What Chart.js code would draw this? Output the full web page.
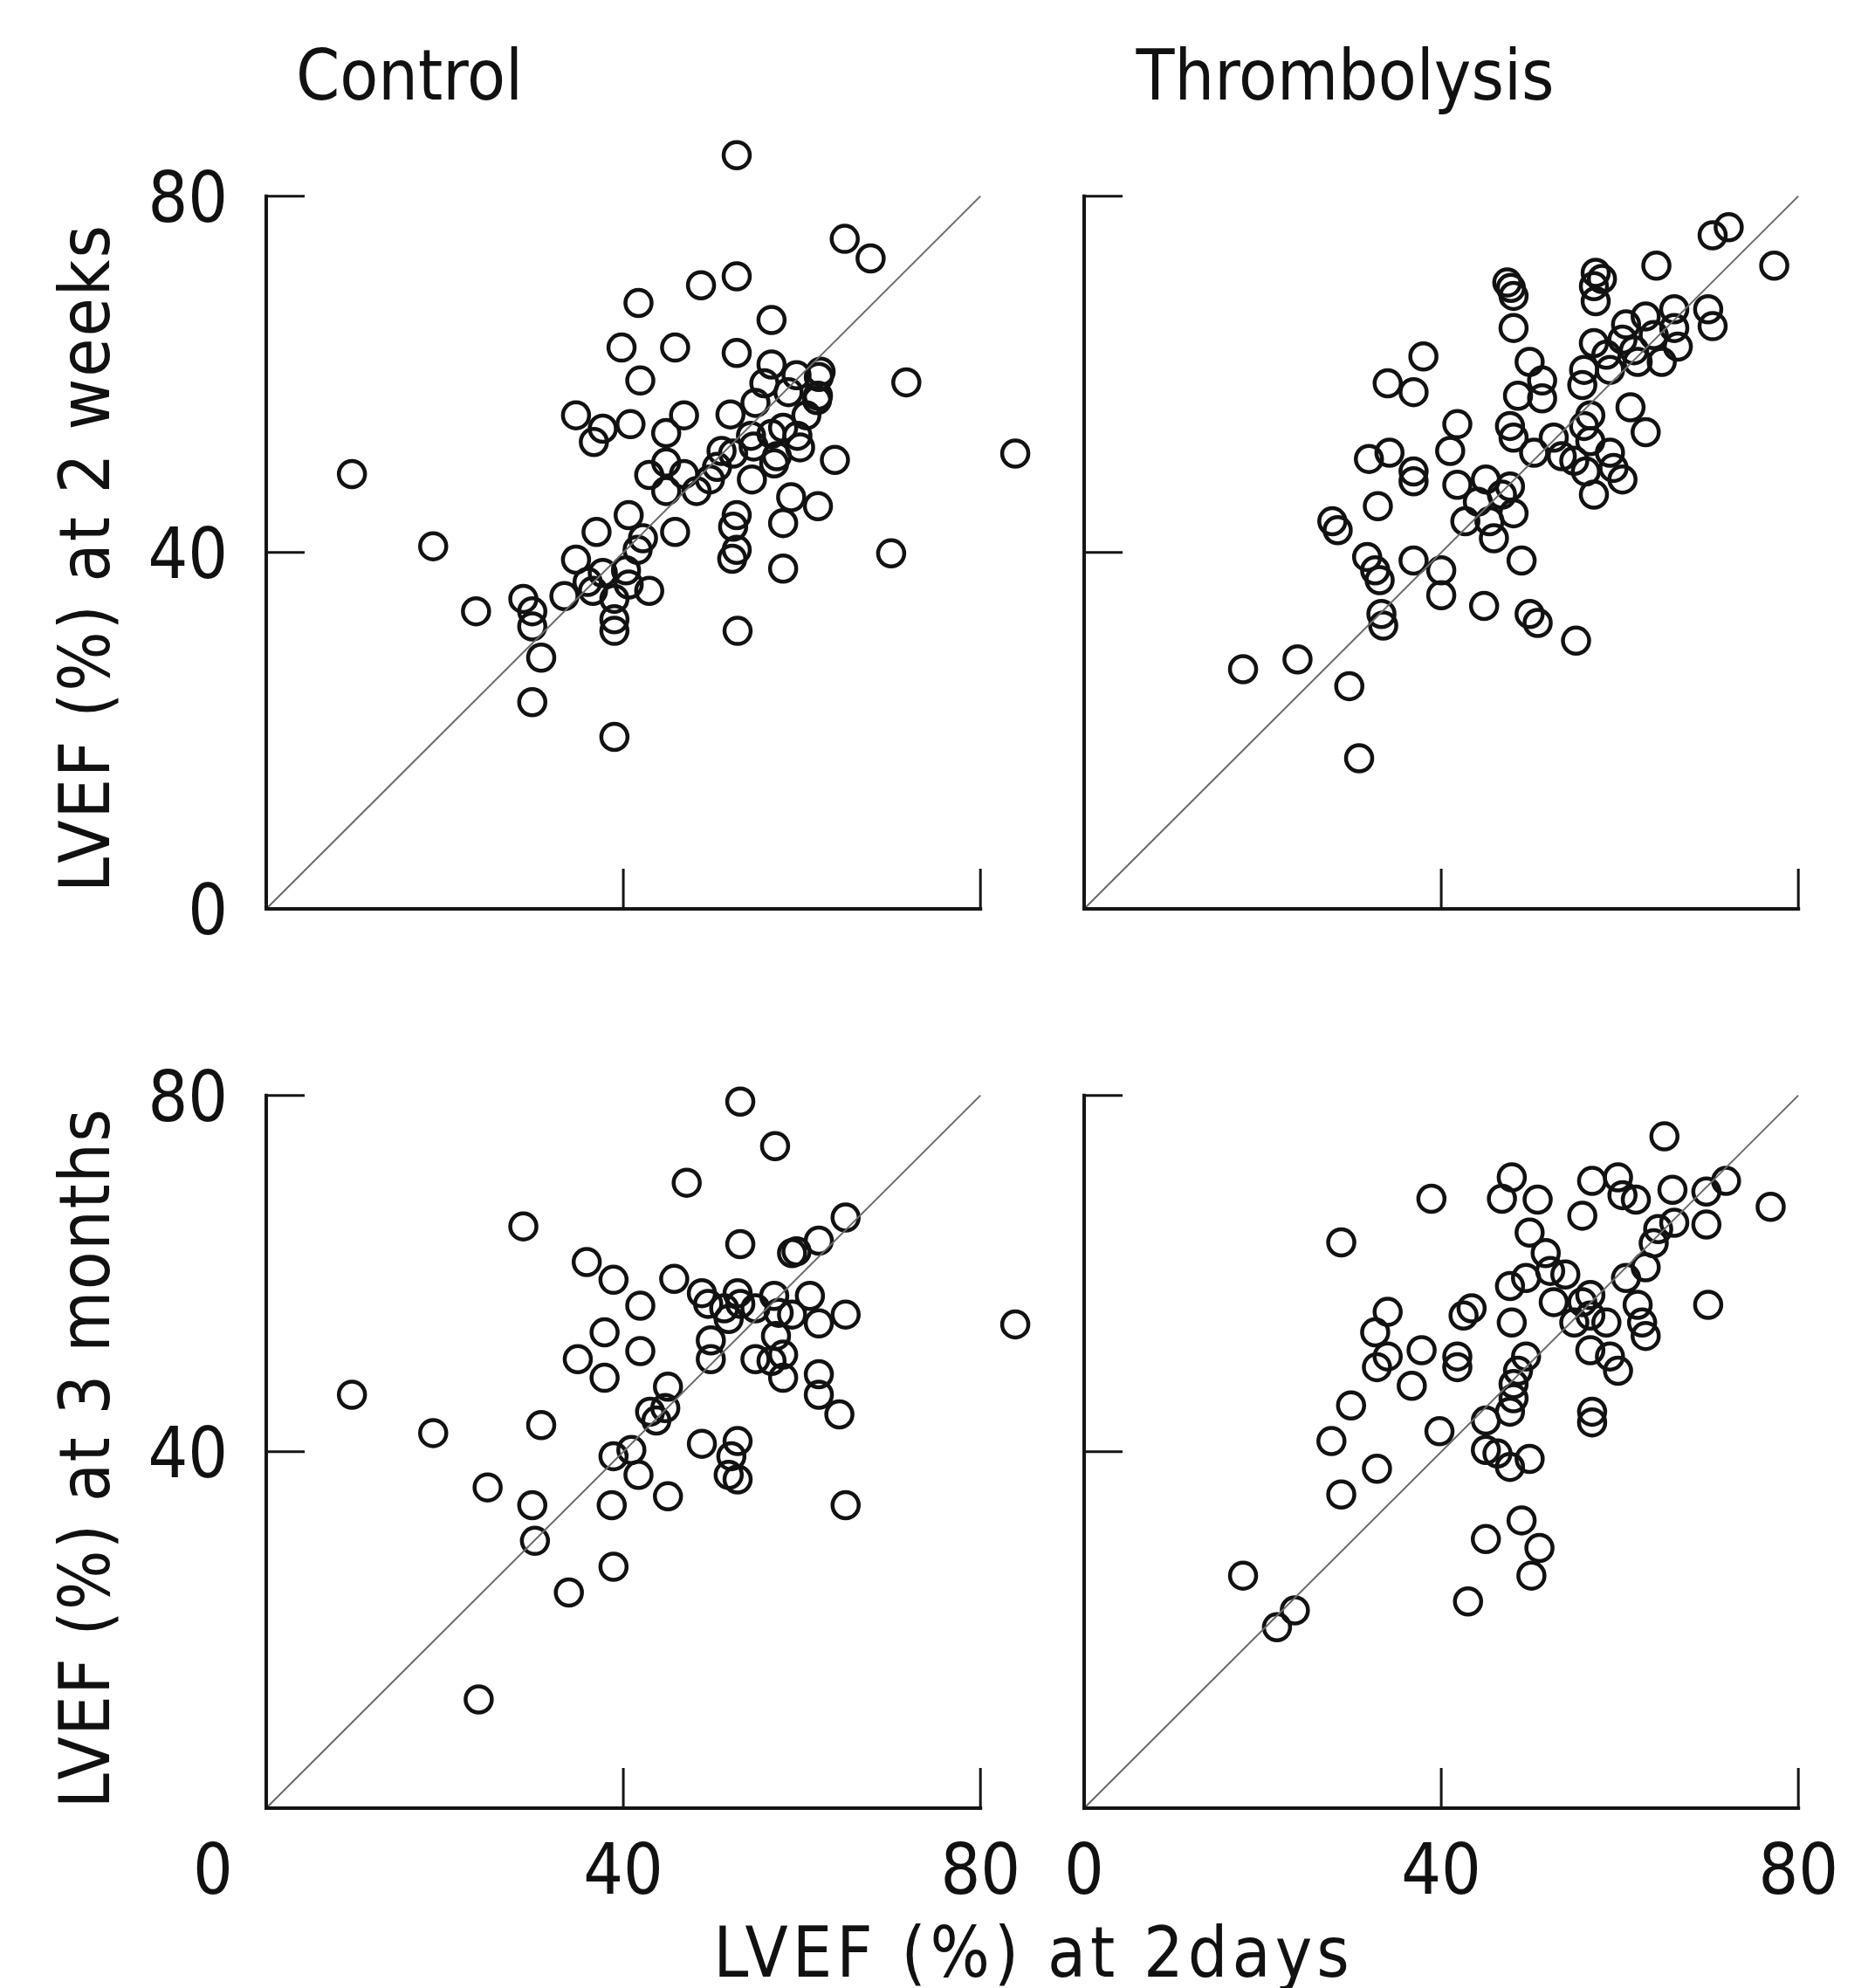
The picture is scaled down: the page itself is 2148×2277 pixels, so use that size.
<!DOCTYPE html>
<html>
<head>
<meta charset="utf-8">
<script src="https://cdn.jsdelivr.net/npm/chart.js@4.4.1/dist/chart.umd.min.js"></script>
<style>
body { margin: 0; background: #fff; width: 2148px; height: 2277px; position: relative; overflow: hidden;
       font-family: 'DejaVu Sans Condensed', 'DejaVu Sans', sans-serif; color: #111; }
canvas { position: absolute; }
.txt { position: absolute; font-size: 80px; line-height: 1; white-space: nowrap; }
.rot { transform: translate(-50%, -50%) rotate(-90deg); }
.ctr { transform: translateX(-50%); }
</style>
</head>
<body>
<div class="txt ctr" style="left:469px; top:47px;">Control</div>
<div class="txt ctr" style="left:1541px; top:47px;">Thrombolysis</div>
<div class="txt rot" style="left:98px; top:639px; letter-spacing:2px;">LVEF (%) at 2 weeks</div>
<div class="txt rot" style="left:98px; top:1670px; letter-spacing:1.5px;">LVEF (%) at 3 months</div>
<div class="txt ctr" style="left:1184px; top:2197px; letter-spacing:5px;">LVEF (%) at 2days</div>

<canvas id="tl"></canvas>
<canvas id="tr"></canvas>
<canvas id="bl"></canvas>
<canvas id="br"></canvas>

<script>
// axis values
const tickValues = [0, 40, 80];
const tickLabels = ['0', '40', '80'];
const axisMax = 80;
const identityLine = [0, 80];

// LVEF at 2 days (x) vs follow-up (y)
const control2w = [
  [9.6,48.8],[18.7,40.7],[23.5,33.4],[28.8,34.8],[29.8,33.4],[29.8,31.7],[30.8,28.2],[29.8,23.2],
  [33.4,35.1],[34.7,39.2],[36.0,36.7],[37.7,37.7],[36.6,35.7],[39.0,34.8],[39.0,32.5],[39.0,31.2],
  [39.0,19.3],[40.3,38.0],[41.6,40.3],[40.6,36.4],[42.9,35.7],[37.0,42.3],[40.6,44.2],[42.2,41.6],
  [45.8,42.3],[34.7,55.4],[40.8,54.4],[37.7,53.9],[36.7,52.4],[39.8,63.0],[41.9,59.3],[41.7,68.0],
  [45.8,63.0],[46.8,55.4],[44.8,53.4],[42.9,48.7],[44.8,50.1],[46.8,48.8],[44.8,46.9],[49.7,48.2],
  [52.3,51.1],[52.0,55.5],[54.3,53.1],[54.4,48.2],[57.2,50.8],[57.9,54.0],[59.5,53.1],[59.8,51.8],
  [61.8,57.6],[62.1,60.3],[63.7,50.4],[58.8,46.2],[61.8,45.2],[57.9,43.3],[57.9,38.2],[52.7,44.2],
  [52.3,42.9],[52.7,40.3],[52.2,39.3],[52.8,31.2],[48.7,70.0],[52.7,71.0],[52.7,62.4],[52.7,84.6],
  [56.6,66.1],[56.6,61.1],[55.8,59.0],[54.8,56.8],[59.4,59.9],[61.9,59.7],[61.7,57.1],[56.6,53.3],
  [54.6,51.9],[56.9,50.0],[51.0,51.4],[64.8,75.2],[67.7,73.0],[71.7,59.1],[83.9,51.1],[70.0,39.9],
  [50.5,49.6],[48.2,46.9],[58.5,58.0],[60.5,55.4]
];
const thromb2w = [
  [70.4,75.6],[72.2,76.5],[77.3,72.2],[64.1,72.2],[47.4,70.3],[47.8,69.7],[48.1,68.8],[57.3,71.4],
  [58.0,70.7],[57.1,69.9],[57.3,68.2],[48.1,65.2],[38.0,62.0],[34.0,59.0],[36.9,58.0],[41.8,54.4],
  [41.0,51.4],[31.9,50.5],[34.2,51.2],[36.9,49.1],[36.9,48.0],[32.9,45.2],[27.8,43.5],[28.4,42.5],
  [31.7,39.5],[32.6,38.0],[33.1,36.9],[36.9,39.1],[40.0,38.0],[40.0,35.2],[33.3,33.1],[33.5,31.8],
  [44.8,34.0],[49.9,33.1],[50.8,32.1],[55.1,30.1],[17.8,26.9],[23.9,28.0],[29.7,25.0],[30.8,16.9],
  [45.9,41.6],[49.0,39.1],[41.8,47.6],[44.1,45.7],[46.8,46.5],[48.1,44.4],[42.7,43.5],[45.4,43.5],
  [47.7,47.4],[45.0,48.2],[49.9,61.4],[51.3,59.3],[48.6,57.6],[51.3,57.3],[47.7,54.2],[48.1,52.9],
  [50.4,51.2],[52.6,52.9],[53.5,50.8],[54.9,50.3],[56.2,49.1],[57.1,46.5],[56.0,54.2],[56.7,52.5],
  [56.7,55.4],[58.9,51.2],[59.3,49.5],[60.3,48.2],[61.2,56.3],[62.9,53.5],[57.1,63.5],[56.0,60.5],
  [55.8,58.8],[58.9,60.5],[60.7,65.6],[61.6,62.7],[62.9,66.5],[63.8,64.4],[66.1,67.3],[66.1,65.2],
  [66.5,63.1],[64.7,61.4],[62.0,61.4],[60.3,63.9],[58.5,62.2],[69.9,67.3],[70.4,65.4]
];
const control3m = [
  [53.1,79.3],[57.0,74.3],[47.1,70.2],[28.8,65.3],[64.9,66.3],[53.1,63.3],[61.9,63.7],[59.4,62.5],
  [58.9,62.3],[83.9,54.3],[35.9,61.3],[38.9,59.3],[41.9,56.4],[37.9,53.4],[41.9,51.3],[34.9,50.4],
  [37.9,48.3],[45.7,59.4],[48.8,57.8],[49.5,56.6],[51.3,56.1],[52.8,57.8],[53.1,56.6],[51.8,54.9],
  [54.8,56.1],[56.9,57.5],[57.4,55.6],[60.9,57.5],[58.9,55.4],[61.9,54.4],[64.9,55.4],[57.1,53.0],
  [56.6,50.2],[57.9,50.9],[57.9,48.3],[54.8,50.4],[49.8,52.5],[49.8,50.4],[61.9,48.7],[61.9,46.4],
  [64.2,44.2],[45.0,47.3],[44.7,44.9],[43.7,43.5],[43.0,44.5],[38.9,39.5],[40.9,40.2],[41.7,37.4],
  [45.0,35.0],[38.7,34.0],[30.8,43.0],[18.7,42.1],[9.6,46.4],[24.8,36.0],[29.8,34.0],[30.1,30.0],
  [38.9,27.1],[33.9,24.2],[23.8,12.2],[48.8,40.9],[52.8,41.2],[52.1,39.5],[51.8,37.4],[52.8,36.9],
  [64.9,34.0]
];
const thromb3m = [
  [65.0,75.4],[47.9,70.8],[46.8,68.4],[50.8,68.3],[38.9,68.4],[56.9,70.4],[59.8,70.8],[60.3,68.8],
  [61.8,68.3],[55.8,66.5],[65.9,69.4],[69.7,69.2],[71.9,70.4],[69.7,65.5],[76.9,67.5],[66.1,65.7],
  [64.3,65.0],[63.8,63.4],[62.9,60.7],[60.7,59.5],[28.8,63.5],[49.9,64.6],[51.7,62.3],[52.2,60.3],
  [53.9,59.9],[52.6,56.8],[49.5,59.5],[47.7,58.6],[55.8,56.8],[56.7,57.6],[58.5,54.5],[56.7,55.3],
  [54.9,54.5],[62.0,56.5],[62.5,54.5],[62.9,53.0],[56.7,51.4],[58.9,50.7],[59.8,49.1],[69.9,56.5],
  [43.4,56.1],[42.5,55.3],[47.9,54.5],[34.0,55.7],[32.6,53.4],[34.0,50.7],[32.8,49.5],[37.8,51.4],
  [41.8,50.7],[41.8,49.5],[36.7,47.4],[49.5,50.7],[48.6,49.1],[48.1,47.6],[48.1,46.0],[47.7,44.5],
  [56.9,44.5],[56.9,43.3],[29.9,45.2],[27.7,41.2],[32.8,38.1],[28.8,35.2],[39.8,42.3],[45.0,43.5],
  [45.0,40.2],[47.7,38.3],[49.9,39.2],[46.3,39.8],[49.0,32.3],[45.0,30.2],[51.0,29.2],[50.1,26.1],
  [43.0,23.2],[17.8,26.1],[23.6,22.2],[21.6,20.3]
];

const FONT = "80px 'DejaVu Sans Condensed', 'DejaVu Sans', sans-serif";
// scales run a bit past 80 so the few outliers beyond it still get drawn;
// the axis lines themselves stop at 80
const SCALE_MAX = 88;
const PAD = { left: 200, right: 30, top: 30, bottom: 150 };
const AREA_W = 818, AREA_H = 816;   // pixel length of 0..80

const axisMarks = {
    id: 'axisMarks',
    afterDraw(chart, args, opts) {
        const { ctx, scales: { x, y } } = chart;
        const x0 = x.getPixelForValue(0), xEnd = x.getPixelForValue(axisMax);
        const y0 = y.getPixelForValue(0), yEnd = y.getPixelForValue(axisMax);
        ctx.save();
        ctx.strokeStyle = '#151515';
        ctx.lineCap = 'square';
        ctx.lineWidth = 4;
        ctx.beginPath();
        ctx.moveTo(x0, yEnd);
        ctx.lineTo(x0, y0);
        ctx.lineTo(xEnd, y0);
        ctx.stroke();
        ctx.lineWidth = 3;
        ctx.lineCap = 'butt';
        tickValues.forEach(v => {
            if (v === 0) return;
            const px = x.getPixelForValue(v);
            const py = y.getPixelForValue(v);
            ctx.beginPath();
            ctx.moveTo(px, y0);
            ctx.lineTo(px, y0 - 46);
            ctx.moveTo(x0, py);
            ctx.lineTo(x0 + 44, py);
            ctx.stroke();
        });
        ctx.fillStyle = '#111';
        ctx.font = FONT;
        if (opts.yLabels) {
            ctx.textAlign = 'right';
            tickValues.forEach((v, i) => {
                if (!opts.yLabels.includes(v)) return;
                ctx.fillText(tickLabels[i], x0 - 44, y.getPixelForValue(v) + 29);
            });
        }
        if (opts.xLabels) {
            ctx.textAlign = 'center';
            tickValues.forEach((v, i) => {
                const shift = v === 0 ? (opts.zeroShift || 0) : 0;
                ctx.fillText(tickLabels[i], x.getPixelForValue(v) + shift, y0 + 98);
            });
        }
        ctx.restore();
    }
};

function makePanel(id, areaLeft, areaTop, points, marks) {
    const canvas = document.getElementById(id);
    const fullW = AREA_W * SCALE_MAX / axisMax;
    const fullH = AREA_H * SCALE_MAX / axisMax;
    const w = Math.round(fullW + PAD.left + PAD.right);
    const h = Math.round(fullH + PAD.top + PAD.bottom);
    canvas.width = w;
    canvas.height = h;
    canvas.style.left = (areaLeft - PAD.left) + 'px';
    canvas.style.top = Math.round(areaTop - (fullH - AREA_H) - PAD.top) + 'px';
    canvas.style.width = w + 'px';
    canvas.style.height = h + 'px';

    const axis = {
        type: 'linear', min: 0, max: SCALE_MAX,
        display: true,
        ticks: { display: false },
        grid: { display: false, drawTicks: false },
        border: { display: false }
    };

    return new Chart(canvas, {
        type: 'scatter',
        data: {
            datasets: [
                {
                    data: identityLine.map(v => ({ x: v, y: v })),
                    showLine: true,
                    borderColor: '#6a6a6a',
                    borderWidth: 2,
                    pointRadius: 0
                },
                {
                    data: points.map(([x, y]) => ({ x, y })),
                    pointStyle: 'circle',
                    pointRadius: 15,
                    pointBorderWidth: 4.5,
                    borderColor: '#121212',
                    backgroundColor: 'rgba(0,0,0,0)',
                    clip: false
                }
            ]
        },
        options: {
            responsive: false,
            animation: false,
            events: [],
            layout: { padding: PAD },
            plugins: {
                legend: { display: false },
                tooltip: { enabled: false },
                axisMarks: marks
            },
            scales: { x: axis, y: { ...axis } }
        },
        plugins: [axisMarks]
    });
}

makePanel('tl', 305, 225, control2w, { yLabels: [0, 40, 80] });
makePanel('tr', 1242, 225, thromb2w, {});
makePanel('bl', 305, 1255, control3m, { yLabels: [40, 80], xLabels: true, zeroShift: -61 });
makePanel('br', 1242, 1255, thromb3m, { xLabels: true });
</script>
</body>
</html>
